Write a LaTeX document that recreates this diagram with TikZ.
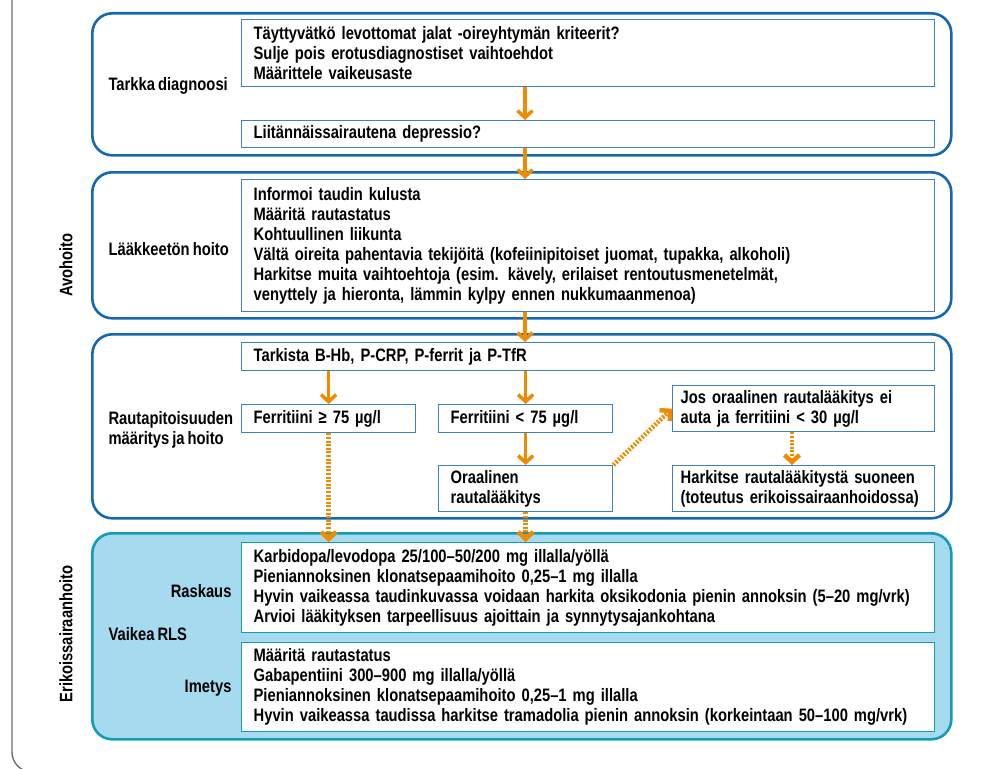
\documentclass[tikz,border=0pt]{standalone}
\usepackage{fontspec}
\setmainfont{Liberation Sans}[FakeStretch=0.82, WordSpace=0.75]
\usepackage{xcolor}
\usetikzlibrary{arrows.meta, positioning}

\definecolor{rlsblue}{RGB}{18,104,178}
\definecolor{boxblue}{RGB}{60,130,195}
\definecolor{rlsteal}{RGB}{20,155,182}
\definecolor{rlsfill}{RGB}{166,218,238}
\definecolor{rlsorange}{RGB}{240,138,0}
\definecolor{framegray}{RGB}{110,110,110}

\begin{document}
\begin{tikzpicture}[
        x=1pt, y=-1pt,
        font=\fontsize{18}{20}\selectfont\bfseries,
        phasebox/.style={
            draw=rlsblue,
            line width=2.6pt,
            rounded corners=20pt,
            anchor=north west,
            minimum width=859pt,
            inner sep=0pt
        },
        inbox/.style={
            draw=boxblue,
            fill=white,
            line width=1.3pt,
            anchor=north west,
            align=left,
            inner ysep=0pt
        },
        widebox/.style={inbox, text width=669pt, inner xsep=12pt},
        smallbox/.style={inbox, text width=150pt, inner xsep=12pt},
        sidebox/.style={inbox, text width=246pt, inner xsep=8pt},
        flowarrow/.style={
            draw=rlsorange,
            line width=3.5pt,
            -{Straight Barb[length=7pt, width=15pt]}
        },
        dotarrow/.style={flowarrow, line width=4.5pt, dash pattern=on 2pt off 1.6pt}
    ]

        \useasboundingbox (0,0) rectangle (1000,768);

        % frame on the left
        \begin{scope}
            \clip (0,0) rectangle (1000,768);
            \draw[framegray, line width=1.4pt, rounded corners=20pt] (12,-5) -- (12,772) -- (60,772);
        \end{scope}

        % phases
        \node[phasebox, minimum height=142pt] (ph1) at (91,12)  {};
        \node[phasebox, minimum height=146pt] (ph2) at (91,171) {};
        \node[phasebox, minimum height=184pt] (ph3) at (91,333) {};
        \node[phasebox, draw=rlsteal, fill=rlsfill, minimum height=206pt] (ph4) at (91,532) {};

        \node[rotate=90] (avo) at (66,265) {Avohoito};
        \node[rotate=90] (erik) at (66,634) {Erikoissairaanhoito};

        \node[anchor=base west] (l1) at (105,90)  {Tarkka diagnoosi};
        \node[anchor=base west] (l2) at (105,255) {Lääkkeetön hoito};
        \node[anchor=west, align=left] (l3) at (105,430) {Rautapitoisuuden\\määritys ja hoito};
        \node[anchor=base west] (l4) at (105,640) {Vaikea RLS};
        \node[anchor=base east] (l5) at (235,597) {Raskaus};
        \node[anchor=base east] (l6) at (235,692) {Imetys};

        % boxes
        \node[widebox, minimum height=67pt] (crit) at (241,19)
            {Täyttyvätkö levottomat jalat -oireyhtymän kriteerit?\\Sulje pois erotusdiagnostiset vaihtoehdot\\Määrittele vaikeusaste};
        \node[widebox, minimum height=27pt] (depr) at (241,120) {Liitännäissairautena depressio?};

        \node[widebox, minimum height=132pt] (nonpharm) at (241,179)
            {Informoi taudin kulusta\\Määritä rautastatus\\Kohtuullinen liikunta\\Vältä oireita pahentavia tekijöitä (kofeiinipitoiset juomat, tupakka, alkoholi)\\Harkitse muita vaihtoehtoja (esim. kävely, erilaiset rentoutusmenetelmät,\\venyttely ja hieronta, lämmin kylpy ennen nukkumaanmenoa)};

        \node[widebox, minimum height=28pt] (tests) at (241,342) {Tarkista B-Hb, P-CRP, P-ferrit ja P-TfR};
        \node[smallbox, minimum height=28pt] (ferhigh) at (241,404) {Ferritiini ≥ 75 µg/l};
        \node[smallbox, minimum height=28pt] (ferlow) at (438,404) {Ferritiini < 75 µg/l};
        \node[smallbox, minimum height=46pt] (oral) at (438,465) {Oraalinen\\rautalääkitys};
        \node[sidebox, minimum height=46pt] (nohelp) at (672,385) {Jos oraalinen rautalääkitys ei\\auta ja ferritiini < 30 µg/l};
        \node[sidebox, minimum height=46pt] (iv) at (672,465) {Harkitse rautalääkitystä suoneen\\(toteutus erikoissairaanhoidossa)};

        \node[widebox, draw=rlsteal, minimum height=90pt] (preg) at (241,542)
            {Karbidopa/levodopa 25/100–50/200 mg illalla/yöllä\\Pieniannoksinen klonatsepaamihoito 0,25–1 mg illalla\\Hyvin vaikeassa taudinkuvassa voidaan harkita oksikodonia pienin annoksin (5–20 mg/vrk)\\Arvioi lääkityksen tarpeellisuus ajoittain ja synnytysajankohtana};
        \node[widebox, draw=rlsteal, minimum height=89pt] (lact) at (241,642)
            {Määritä rautastatus\\Gabapentiini 300–900 mg illalla/yöllä\\Pieniannoksinen klonatsepaamihoito 0,25–1 mg illalla\\Hyvin vaikeassa taudissa harkitse tramadolia pienin annoksin (korkeintaan 50–100 mg/vrk)};

        % arrows
        \coordinate (col) at (525,0);
        \coordinate (col2) at (792,0);

        \draw[flowarrow] (crit.south -| col) -- (depr.north -| col);
        \draw[flowarrow] (depr.south -| col) -- (nonpharm.north -| col);
        \draw[flowarrow] (nonpharm.south -| col) -- (tests.north -| col);
        \draw[flowarrow] (tests.south -| ferhigh.north) -- (ferhigh.north);
        \draw[flowarrow] (tests.south -| ferlow.north) -- (ferlow.north);
        \draw[flowarrow] (ferlow) -- (oral);

        \draw[dotarrow] (ferhigh) -- (ferhigh.south |- preg.north);
        \draw[dotarrow] (oral) -- (oral.south |- preg.north);
        \draw[dotarrow] (oral.north east) -- (nohelp.west);
        \draw[dotarrow] (nohelp.south -| col2) -- (iv.north -| col2);

    \end{tikzpicture}
\end{document}
